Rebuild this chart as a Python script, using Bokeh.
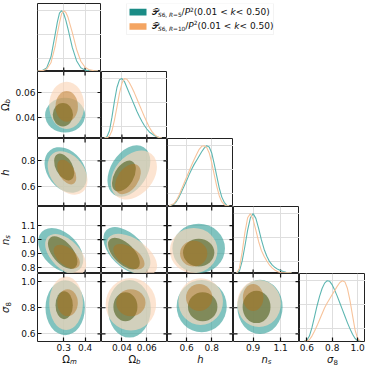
import math
from bokeh.plotting import figure
from bokeh.models import (GridPlot, Range1d, FixedTicker, Label, BoxAnnotation, PrintfTickFormatter)
from bokeh.embed import file_html
from bokeh.resources import INLINE

# ---------------- data ----------------
params = ["Om", "Ob", "h", "ns", "s8"]
ranges = {"Om": (0.177, 0.477), "Ob": (0.0236, 0.0766), "h": (0.447, 0.974),
          "ns": (0.757, 1.238), "s8": (0.542, 1.062)}
diag_range = (-0.01, 1.12)
diag_grid = [0.2, 0.6, 1.0]
xticks = {"Om": [0.3, 0.4], "Ob": [0.04, 0.06], "h": [0.6, 0.8],
          "ns": [0.9, 1.1], "s8": [0.6, 0.8, 1.0]}
yticks = {"Ob": [0.04, 0.06], "h": [0.6, 0.8], "ns": [0.8, 0.9, 1.0, 1.1],
          "s8": [0.6, 0.8, 1.0]}
fmts = {"Om": "%.1f", "Ob": "%.2f", "h": "%.1f", "ns": "%.1f", "s8": "%.1f"}

# 1D marginals (peak-normalised), teal = R=5, orange = R=10
om_x = [0.18, 0.20, 0.22, 0.24, 0.26, 0.27, 0.28, 0.29, 0.30, 0.31, 0.32, 0.34, 0.36, 0.38, 0.40, 0.42, 0.44, 0.46]
om_teal = [0.0, 0.007, 0.05, 0.23, 0.61, 0.81, 0.96, 1.0, 0.95, 0.84, 0.70, 0.39, 0.17, 0.053, 0.013, 0.003, 0.0, 0.0]
om_orng = [0.0, 0.004, 0.028, 0.135, 0.41, 0.62, 0.80, 0.95, 1.0, 0.97, 0.89, 0.64, 0.36, 0.16, 0.06, 0.017, 0.004, 0.0]

ob_x = [0.026, 0.028, 0.030, 0.032, 0.034, 0.036, 0.038, 0.040, 0.042, 0.044, 0.046, 0.048, 0.050, 0.052,
        0.054, 0.056, 0.058, 0.060, 0.062, 0.064, 0.066, 0.068, 0.070, 0.072]
ob_teal = [0.0, 0.02, 0.12, 0.35, 0.62, 0.85, 0.98, 1.0, 0.95, 0.85, 0.75, 0.65, 0.55, 0.45, 0.36, 0.28,
           0.21, 0.15, 0.10, 0.07, 0.04, 0.02, 0.005, 0.0]
ob_orng = [0.0, 0.0, 0.03, 0.12, 0.30, 0.52, 0.75, 0.92, 1.0, 0.99, 0.93, 0.85, 0.76, 0.66, 0.56, 0.46,
           0.36, 0.27, 0.18, 0.11, 0.06, 0.025, 0.005, 0.0]

h_x = [0.46, 0.50, 0.52, 0.54, 0.56, 0.58, 0.60, 0.62, 0.64, 0.66, 0.68, 0.70, 0.72, 0.74, 0.76, 0.78,
       0.80, 0.82, 0.84, 0.86, 0.88, 0.90, 0.92, 0.94]
h_teal = [0.0, 0.03, 0.08, 0.15, 0.24, 0.33, 0.42, 0.52, 0.61, 0.69, 0.76, 0.83, 0.90, 0.96, 1.0, 0.98,
          0.88, 0.70, 0.50, 0.30, 0.15, 0.06, 0.01, 0.0]
h_orng = [0.0, 0.04, 0.10, 0.18, 0.28, 0.38, 0.48, 0.58, 0.68, 0.77, 0.86, 0.94, 0.99, 1.0, 0.97, 0.88,
          0.72, 0.52, 0.33, 0.17, 0.07, 0.02, 0.0, 0.0]

ns_x = [0.78, 0.80, 0.82, 0.84, 0.86, 0.88, 0.90, 0.92, 0.94, 0.96, 0.98, 1.00, 1.02, 1.04, 1.06, 1.08,
        1.10, 1.12, 1.14, 1.16, 1.18]
ns_teal = [0.0, 0.03, 0.20, 0.45, 0.72, 0.93, 1.0, 0.92, 0.75, 0.56, 0.40, 0.28, 0.19, 0.13, 0.09, 0.06,
           0.04, 0.025, 0.012, 0.005, 0.0]
ns_orng = [0.0, 0.08, 0.35, 0.68, 0.93, 1.0, 0.90, 0.72, 0.53, 0.38, 0.28, 0.20, 0.13, 0.08, 0.045, 0.02,
           0.008, 0.0, 0.0, 0.0, 0.0]

s8_x = [0.58, 0.60, 0.62, 0.64, 0.66, 0.68, 0.70, 0.72, 0.74, 0.76, 0.78, 0.80, 0.82, 0.84, 0.86, 0.88,
        0.90, 0.92, 0.94, 0.96, 0.98, 1.00, 1.02]
s8_teal = [0.0, 0.01, 0.08, 0.22, 0.40, 0.58, 0.74, 0.87, 0.96, 1.0, 0.99, 0.93, 0.84, 0.74, 0.63, 0.52,
           0.41, 0.30, 0.20, 0.11, 0.04, 0.005, 0.0]
s8_orng = [0.0, 0.0, 0.02, 0.08, 0.16, 0.25, 0.35, 0.45, 0.55, 0.63, 0.70, 0.77, 0.84, 0.91, 0.97, 1.0,
           0.98, 0.87, 0.67, 0.42, 0.18, 0.04, 0.0]

marg = {"Om": (om_x, om_teal, om_orng), "Ob": (ob_x, ob_teal, ob_orng), "h": (h_x, h_teal, h_orng),
        "ns": (ns_x, ns_teal, ns_orng), "s8": (s8_x, s8_teal, s8_orng)}

# 2D credible regions as ellipses: [x centre, y centre, width(x units), height(y units), angle deg]
ell_Ob_Om = {"teal95": [0.3065, 0.0421, 0.188, 0.0276, 0], "orng95": [0.3136, 0.0498, 0.164, 0.0375, 0],
             "teal68": [0.296, 0.0424, 0.095, 0.0186, 0], "orng68": [0.314, 0.049, 0.105, 0.0242, 0]}
ell_h_Om = {"teal95": [0.309, 0.73, 0.236, 0.283, -52], "orng95": [0.318, 0.707, 0.227, 0.26, -52],
            "teal68": [0.302, 0.753, 0.136, 0.13, -62], "orng68": [0.314, 0.714, 0.127, 0.12, -60]}
ell_ns_Om = {"teal95": [0.286, 0.922, 0.25, 0.25, -45], "orng95": [0.309, 0.893, 0.236, 0.206, -45],
             "teal68": [0.295, 0.907, 0.182, 0.147, -50], "orng68": [0.314, 0.878, 0.145, 0.125, -40]}
ell_s8_Om = {"teal95": [0.3068, 0.80, 0.185, 0.42, 0], "orng95": [0.311, 0.835, 0.158, 0.41, 0],
             "teal68": [0.302, 0.82, 0.081, 0.214, 0], "orng68": [0.318, 0.839, 0.096, 0.206, 0]}
ell_h_Ob = {"teal95": [0.0456, 0.722, 0.045, 0.283, 58], "orng95": [0.0496, 0.691, 0.0442, 0.30, 50],
            "teal68": [0.0416, 0.683, 0.0272, 0.15, 60], "orng68": [0.0448, 0.66, 0.0272, 0.16, 55]}
ell_ns_Ob = {"teal95": [0.044, 0.922, 0.0464, 0.235, -45], "orng95": [0.048, 0.893, 0.0464, 0.22, -35],
             "teal68": [0.0416, 0.90, 0.032, 0.147, -45], "orng68": [0.0456, 0.878, 0.0288, 0.132, -35]}
ell_s8_Ob = {"teal95": [0.046, 0.792, 0.0345, 0.44, 0], "orng95": [0.0472, 0.827, 0.0405, 0.40, 0],
             "teal68": [0.0428, 0.808, 0.0193, 0.222, 0], "orng68": [0.0472, 0.839, 0.0235, 0.206, 0]}
ell_ns_h = {"teal95": [0.696, 0.937, 0.42, 0.355, 0], "orng95": [0.656, 0.922, 0.38, 0.325, 0],
            "teal68": [0.696, 0.907, 0.25, 0.20, 0], "orng68": [0.656, 0.90, 0.218, 0.185, 0]}
ell_s8_h = {"teal95": [0.72, 0.812, 0.40, 0.40, 0], "orng95": [0.712, 0.847, 0.356, 0.357, 0],
            "teal68": [0.728, 0.808, 0.235, 0.222, 0], "orng68": [0.70, 0.878, 0.21, 0.206, 0]}
ell_s8_ns = {"teal95": [0.95, 0.806, 0.33, 0.415, 0], "orng95": [0.943, 0.832, 0.318, 0.36, 0],
             "teal68": [0.925, 0.806, 0.203, 0.247, 0], "orng68": [0.90, 0.878, 0.15, 0.206, 0]}
ellipses = {("Ob", "Om"): ell_Ob_Om, ("h", "Om"): ell_h_Om, ("ns", "Om"): ell_ns_Om, ("s8", "Om"): ell_s8_Om,
            ("h", "Ob"): ell_h_Ob, ("ns", "Ob"): ell_ns_Ob, ("s8", "Ob"): ell_s8_Ob,
            ("ns", "h"): ell_ns_h, ("s8", "h"): ell_s8_h, ("s8", "ns"): ell_s8_ns}

legend_labels = [["𝒫", "S", "6, ", "R", "=5", "/", "P", "2", "(0.01 < ", "k", " < 0.50)"],
                 ["𝒫", "S", "6, ", "R", "=10", "/", "P", "2", "(0.01 < ", "k", " < 0.50)"]]

# ---------------- style ----------------
layer_style = {"teal95": ("#41a6a0", 0.67), "orng95": ("#fad7bb", 0.67),
               "teal68": ("#556527", 0.66), "orng68": ("#b46e17", 0.45)}
layer_order = ["teal95", "orng95", "teal68", "orng68"]
line_teal, line_orng = "#5db6b1", "#f7c39b"
swatch_teal, swatch_orng = "#1b8c86", "#f4a562"
TICK = "#111111"
FONT = "DejaVu Sans"

PW = 66                      # frame width of every panel
ROW_H = [68, 67, 68, 67, 68]  # frame heights
TOP = 3                      # space above first row
TICKLAB_W = 23               # left border holding y tick labels
TICKLAB_H = 13               # bottom border holding x tick labels
YLAB_W = 12                  # strip with y axis titles
XLAB_H = 12                  # strip with x axis titles
MID = 0.346                  # em-middle above baseline, DejaVu Sans

W = {c: 0.636 for c in "0123456789"}
W.update({'.': 0.318, ',': 0.318, ' ': 0.318, '(': 0.390, ')': 0.390, '<': 0.838, '=': 0.838,
          '/': 0.337, 'P': 0.603, 'k': 0.579, 'S': 0.635, 'R': 0.695, 'Ω': 0.765, 'm': 0.974,
          'b': 0.635, 'h': 0.634, 'n': 0.634, 's': 0.521, 'σ': 0.634, '𝒫': 0.72})


def tw(s, size):
    return sum(W.get(ch, 0.6) for ch in s) * size


def rich(p, parts, x, y, xu, yu, angle=0.0, center=True):
    """Text made of pieces (text, size, italic, baseline shift); (x, y) is the middle of the first piece."""
    total = sum(tw(t, sz) for t, sz, it, dy in parts)
    off = -total / 2 if center else 0
    sz0 = parts[0][1]
    for t, sz, it, dy in parts:
        shift = dy + MID * (sz - sz0)
        if angle == 0:
            xo, yo = off, shift
        else:
            xo, yo = -shift, off
        p.add_layout(Label(x=x, y=y, x_units=xu, y_units=yu, text=t, text_font=FONT,
                           text_font_size=f"{sz}px", text_font_style="italic" if it else "normal",
                           text_color="#111111", text_align="left", text_baseline="middle",
                           x_offset=xo, y_offset=yo, angle=angle))
        off += tw(t, sz)


axis_parts = {"Om": [("Ω", 10, False, 0), ("m", 7, True, -1.5)],
              "Ob": [("Ω", 10, False, 0), ("b", 7, True, -1.5)],
              "h": [("h", 10, True, 0)],
              "ns": [("n", 10, True, 0), ("s", 7, True, -1.5)],
              "s8": [("σ", 10, True, 0), ("8", 7, False, -1.5)]}


def style_axis(ax):
    ax.axis_line_color = None
    ax.major_tick_in = 4
    ax.major_tick_out = 0
    ax.minor_tick_in = 0
    ax.minor_tick_out = 0
    ax.major_tick_line_color = TICK
    ax.major_tick_line_width = 1.2
    ax.major_label_text_font = FONT
    ax.major_label_text_color = "#111111"
    ax.major_label_text_font_size = "9px"
    ax.major_label_standoff = 2


def edge_ticks(p, xs=None, yv=None, xv=None, ys=None):
    # inward tick marks on an unlabeled frame edge (marker centred on the edge, outer half clipped)
    if xs is not None:
        p.scatter(x=xs, y=[yv] * len(xs), marker="dash", size=8, angle=math.pi / 2,
                  line_color=TICK, line_width=1.2)
    else:
        p.scatter(x=[xv] * len(ys), y=ys, marker="dash", size=8, line_color=TICK, line_width=1.2)


def borders(r, c):
    return dict(min_border_left=TICKLAB_W if c == 0 else 0, min_border_right=0,
                min_border_top=TOP if r == 0 else 0,
                min_border_bottom=TICKLAB_H if r == 4 else 0)


def fig_size(r, c):
    w = PW + (TICKLAB_W if c == 0 else 0)
    h = ROW_H[r] + (TOP if r == 0 else 0) + (TICKLAB_H if r == 4 else 0)
    return w, h


def make_panel(r, c):
    xk = params[c]
    diag = (r == c)
    yk = None if diag else params[r]
    w, hh = fig_size(r, c)
    xr = ranges[xk]
    yr = diag_range if diag else ranges[yk]
    p = figure(width=w, height=hh, x_range=Range1d(*xr), y_range=Range1d(*yr),
               toolbar_location=None, output_backend="svg", **borders(r, c))
    p.outline_line_color = "#222222"
    p.outline_line_width = 1
    p.background_fill_color = "white"
    p.border_fill_color = "white"
    p.grid.grid_line_color = "#dedede"
    p.grid.grid_line_width = 1

    xa = p.xaxis[0]
    xa.ticker = FixedTicker(ticks=xticks[xk])
    xa.formatter = PrintfTickFormatter(format=fmts[xk])
    style_axis(xa)
    if r != 4:
        xa.visible = False
        edge_ticks(p, xs=xticks[xk], yv=yr[0])

    ya = p.yaxis[0]
    if diag:
        ya.ticker = FixedTicker(ticks=diag_grid)
        ya.visible = False
        xs, teal, orng = marg[xk]
        p.line(xs, teal, line_color=line_teal, line_width=1.1)
        p.line(xs, orng, line_color=line_orng, line_width=1.1)
    else:
        ya.ticker = FixedTicker(ticks=yticks[yk])
        ya.formatter = PrintfTickFormatter(format=fmts[yk])
        style_axis(ya)
        if c != 0:
            ya.visible = False
            edge_ticks(p, xv=xr[0], ys=yticks[yk])
        ell = ellipses[(yk, xk)]
        for key in layer_order:
            cx, cy, ew, eh, ang = ell[key]
            col, al = layer_style[key]
            p.ellipse(x=[cx], y=[cy], width=[ew], height=[eh], angle=[ang], angle_units="deg",
                      fill_color=col, fill_alpha=al, line_color=None)
        edge_ticks(p, xs=xticks[xk], yv=yr[1])
        edge_ticks(p, xv=xr[1], ys=yticks[yk])
    return p


def blank(width, height, xr, yr, **kw):
    p = figure(width=width, height=height, x_range=Range1d(*xr), y_range=Range1d(*yr),
               toolbar_location=None, output_backend="svg", x_axis_location=None,
               y_axis_location=None, min_border=0, **kw)
    p.outline_line_color = None
    p.grid.visible = False
    p.border_fill_color = "white"
    p.background_fill_color = "white"
    return p


children = []
for r in range(5):
    for c in range(r + 1):
        children.append((make_panel(r, c), r, c + 1))

# y-axis titles: one strip per row, sharing that row's y range
for r in range(1, 5):
    yk = params[r]
    _, hh = fig_size(r, 0)
    s = blank(YLAB_W, hh, (0, YLAB_W), ranges[yk], min_border_bottom=TICKLAB_H if r == 4 else 0)
    rich(s, axis_parts[yk], 5.4, sum(ranges[yk]) / 2, "data", "data", angle=math.pi / 2)
    children.append((s, r, 0))

# x-axis titles: one strip per column, sharing that column's x range
for c in range(5):
    xk = params[c]
    w, _ = fig_size(4, c)
    s = blank(w, XLAB_H, ranges[xk], (0, XLAB_H), min_border_left=TICKLAB_W if c == 0 else 0)
    rich(s, axis_parts[xk], sum(ranges[xk]) / 2, 7.3, "data", "data")
    children.append((s, 5, c + 1))

# legend over the empty upper-right cells
LH = ROW_H[0] + TOP
lg = blank(4 * PW, LH, (0, 1), (0, 1))


def box(left, right, top, bottom, **kw):
    lg.add_layout(BoxAnnotation(left=left, right=right, top=top, bottom=bottom, left_units="screen",
                                right_units="screen", top_units="screen", bottom_units="screen", **kw))


box(25, 172, LH - 3, LH - 34, fill_color="white", fill_alpha=1, line_color="#d8d8d8", line_width=1)
box(28, 45, LH - 8.3, LH - 15, fill_color=swatch_teal, fill_alpha=1, line_color=None)
box(28, 45, LH - 22.7, LH - 29.3, fill_color=swatch_orng, fill_alpha=1, line_color=None)
SUB = 5.8
styles = [(9, False, 0), (SUB, True, -2), (SUB, False, -2), (SUB, True, -2), (SUB, False, -2),
          (9, False, 0), (9, True, 0), (SUB, False, 4), (9, False, 0), (9, True, 0), (9, False, 0)]
for i, mid in enumerate([LH - 11.5, LH - 25.3]):
    parts = [(t, s[0], s[1], s[2]) for t, s in zip(legend_labels[i], styles)]
    rich(lg, parts, 50, mid, "screen", "screen", center=False)
children.append((lg, 0, 2, 1, 4))

grid = GridPlot(children=children, toolbar_location=None, spacing=0)

open("out.html", "w").write(file_html(grid, INLINE))
